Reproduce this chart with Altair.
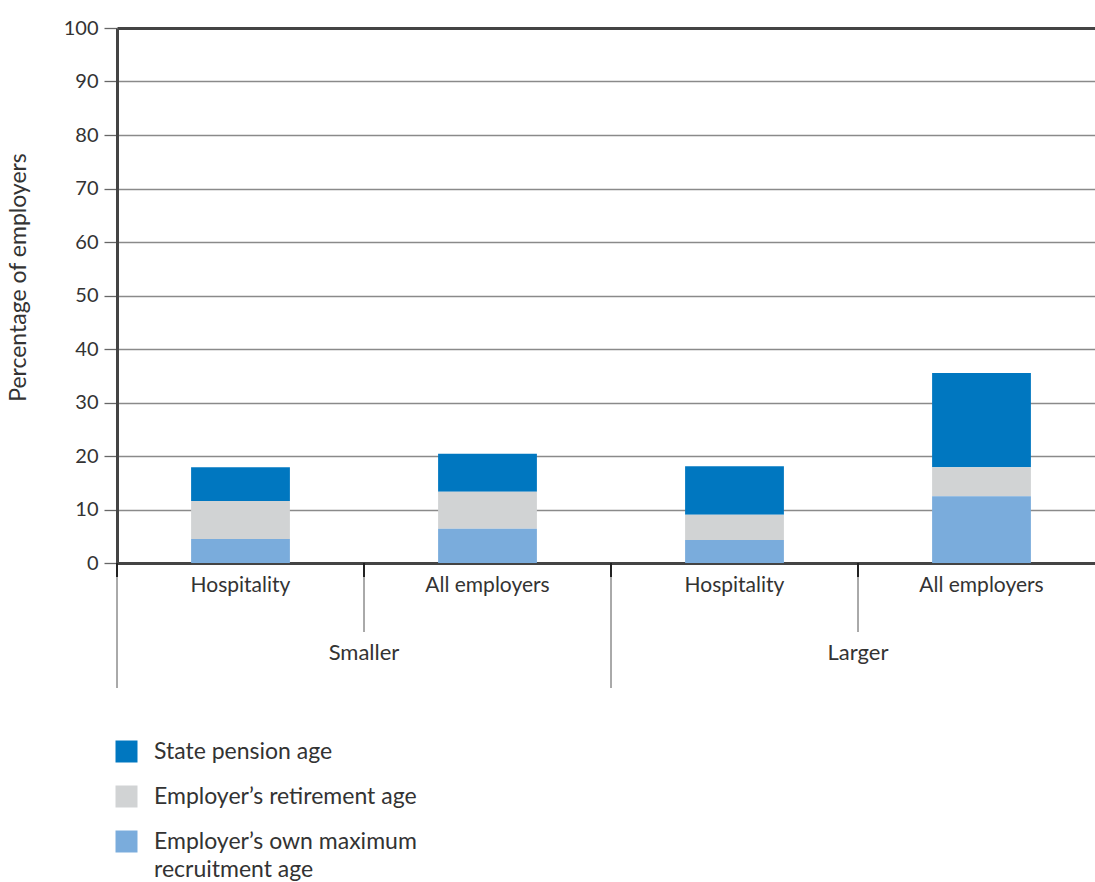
import altair as alt
import pandas as pd

# ---- data ----
groups = ["Smaller", "Smaller", "Larger", "Larger"]
sectors = ["Hospitality", "All employers", "Hospitality", "All employers"]
max_recruitment = [4.5, 6.4, 4.3, 12.5]
retirement_age = [7.1, 6.9, 4.7, 5.4]
state_pension = [6.3, 7.1, 9.1, 17.6]

series = ["State pension age", "Employer’s retirement age", "Employer’s own maximum recruitment age"]
colors = ["#0077c0", "#d1d3d4", "#7aacdc"]
stack_rank = [3, 2, 1]  # state pension on top, max recruitment at bottom

group_order = ["Smaller", "Larger"]
sector_order = ["Hospitality", "All employers"]
y_ticks = [0, 10, 20, 30, 40, 50, 60, 70, 80, 90, 100]

rows = []
for g, s, a, b, c in zip(groups, sectors, max_recruitment, retirement_age, state_pension):
    for name, v, r in zip(series, [c, b, a], stack_rank):
        rows.append(dict(group=g, sector=s, series=name, value=v, rank=r))
df = pd.DataFrame(rows)
lab_df = pd.DataFrame({"group": groups, "sector": sectors})
grp_df = pd.DataFrame({"group": group_order})

W, H = 978, 535
FONT = "Lato"
TXT = "#333333"

xscale = alt.Scale(domain=group_order, range=[0, 988], paddingInner=0, paddingOuter=0)
xoff = alt.Scale(domain=sector_order, paddingInner=0.6, paddingOuter=0.3)

bars = alt.Chart(df).mark_bar().encode(
    x=alt.X("group:N", scale=xscale, axis=None, sort=group_order),
    xOffset=alt.XOffset("sector:N", scale=xoff, sort=sector_order),
    y=alt.Y(
        "value:Q",
        stack="zero",
        scale=alt.Scale(domain=[0, 100]),
        title="Percentage of employers",
        axis=alt.Axis(
            values=y_ticks,
            grid=True,
            gridColor={"condition": {"test": "datum.value === 0 || datum.value === 100", "value": "#444444"}, "value": "#8a8a8a"},
            gridWidth={"condition": {"test": "datum.value === 0 || datum.value === 100", "value": 3}, "value": 1.3},
            domainColor="#444444",
            domainWidth=3,
            tickColor="#666666",
            tickSize=13,
            tickWidth=1.3,
            labelFont=FONT,
            labelFontSize=20,
            labelColor=TXT,
            labelPadding=6,
            titleFont=FONT,
            titleFontSize=23,
            titleFontWeight="normal",
            titleColor=TXT,
            titlePadding=33,
            titleY=249,
        ),
    ),
    color=alt.Color(
        "series:N",
        scale=alt.Scale(domain=series, range=colors),
        legend=alt.Legend(
            title=None,
            orient="none",
            legendX=-2,
            legendY=712,
            direction="vertical",
            symbolType="square",
            symbolSize=484,
            symbolStrokeWidth=0,
            labelFont=FONT,
            labelFontSize=23,
            labelColor=TXT,
            labelOffset=16,
            labelLimit=0,
            rowPadding=21,
            labelExpr="datum.label == 'Employer’s own maximum recruitment age' ? ['Employer’s own maximum', 'recruitment age'] : datum.label",
        ),
    ),
    order=alt.Order("rank:Q", sort="ascending"),
)

sector_text = alt.Chart(lab_df).mark_text(font=FONT, fontSize=21, color=TXT, baseline="middle").encode(
    x=alt.X("group:N", scale=xscale, axis=None, sort=group_order),
    xOffset=alt.XOffset("sector:N", scale=xoff, sort=sector_order),
    y=alt.value(H + 23),
    text="sector:N",
)

group_text = alt.Chart(grp_df).mark_text(font=FONT, fontSize=22, color=TXT, baseline="middle").encode(
    x=alt.X("group:N", scale=xscale, axis=None, sort=group_order, bandPosition=0.5),
    y=alt.value(H + 90),
    text="group:N",
)

long_rules = alt.Chart(grp_df).mark_rule(color="#555555", strokeWidth=1).encode(
    x=alt.X("group:N", scale=xscale, axis=None, sort=group_order, bandPosition=0),
    y=alt.value(H),
    y2=alt.value(H + 125),
)
short_rules = alt.Chart(grp_df).mark_rule(color="#555555", strokeWidth=1).encode(
    x=alt.X("group:N", scale=xscale, axis=None, sort=group_order, bandPosition=0.5),
    y=alt.value(H),
    y2=alt.value(H + 69),
)
tick_long = alt.Chart(grp_df).mark_rule(color="#222222", strokeWidth=2).encode(
    x=alt.X("group:N", scale=xscale, axis=None, sort=group_order, bandPosition=0),
    y=alt.value(H),
    y2=alt.value(H + 14),
)
tick_short = alt.Chart(grp_df).mark_rule(color="#222222", strokeWidth=2).encode(
    x=alt.X("group:N", scale=xscale, axis=None, sort=group_order, bandPosition=0.5),
    y=alt.value(H),
    y2=alt.value(H + 14),
)

chart = (
    alt.layer(bars, sector_text, group_text, long_rules, short_rules, tick_long, tick_short)
    .properties(
        width=W,
        height=H,
        autosize=alt.AutoSizeParams(type="none"),
        padding={"left": 117, "top": 28, "right": 0, "bottom": 319},
    )
    .configure(style={"guide-label": {"lineHeight": 28}})
    .configure_view(stroke=None)
)

chart.save("out.html", embed_options={"renderer": "svg", "actions": False})
